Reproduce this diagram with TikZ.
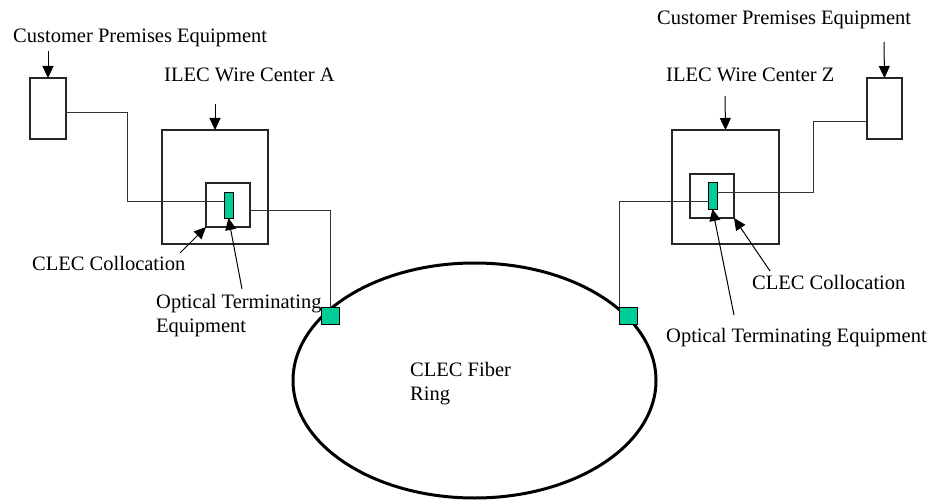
\documentclass[tikz,border=0pt]{standalone}
\usepackage{fontspec}
\setmainfont{Liberation Serif}
\usetikzlibrary{arrows.meta,shapes.geometric}
\definecolor{oteGreen}{RGB}{0,204,153}
\begin{document}
\begin{tikzpicture}[x=1pt,y=-1pt,
  lbl/.style={inner sep=0pt,anchor=base west,font=\fontsize{20.5}{24}\selectfont},
  box/.style={draw=black!85,line width=1.2pt,fill=white,rectangle,inner sep=0pt,outer sep=0pt},
  otebox/.style={draw=black,line width=1pt,fill=oteGreen,rectangle,inner sep=0pt,outer sep=0pt,minimum width=9pt,minimum height=26pt},
  ringport/.style={draw=black,line width=1pt,fill=oteGreen,rectangle,inner sep=0pt,outer sep=0pt,minimum width=18pt,minimum height=17pt},
  wire/.style={draw=black!80,line width=1pt},
  pointer/.style={draw=black,line width=1pt,-{Triangle[length=12pt,width=11pt]}}]
\useasboundingbox (0,0) rectangle (932,500);

% fibre ring
\node[draw=black,line width=3pt,ellipse,inner sep=0pt,minimum width=363pt,minimum height=235pt] (ring) at (474.5,380.5) {};
% two-line labels are anchored at the baseline of their last line
\node[lbl,align=left] (ringlbl) at (410,400) {CLEC Fiber\\Ring};

% ---- wire centre A ----
\node[box,minimum width=36pt,minimum height=61pt] (cpeA) at (48,108.5) {};
\node[box,minimum width=106pt,minimum height=114pt] (wcA) at (215,187) {};
\node[box,minimum width=44pt,minimum height=44pt] (colA) at (228,205) {};
\node[otebox] (oteA) at (228.5,205) {};
\node[ringport] (portA) at (330,315.5) {};

\node[lbl] (cpeAlbl) at (13,43) {Customer Premises Equipment};
\node[lbl] (wcAlbl) at (164,82) {ILEC Wire Center A};
\node[lbl] (colAlbl) at (32,270) {CLEC Collocation};
\node[lbl,align=left] (oteAlbl) at (156,332) {Optical Terminating\\Equipment};

\coordinate (cpeAarr) at (48,51);
\coordinate (wcAarr) at (215,104);
\coordinate (colAarr) at (180,253);
\coordinate (oteAarr) at (242,289);

\draw[wire] (cpeA.east |- 0,113) -- (127,113) |- (oteA.west |- 0,201);
\draw[wire] (colA.east |- 0,210) -| (portA.north);

\draw[pointer] (cpeAarr) -- (cpeA.north);
\draw[pointer] (wcAarr) -- (wcA.north);
\draw[pointer] (colAarr) -- (colA.south west);
\draw[pointer] (oteAarr) -- (oteA.south);

% ---- wire centre Z ----
\node[box,minimum width=35pt,minimum height=61pt] (cpeZ) at (884.5,108.5) {};
\node[box,minimum width=107pt,minimum height=114pt] (wcZ) at (725.5,187) {};
\node[box,minimum width=44pt,minimum height=44pt] (colZ) at (712,196) {};
\node[otebox] (oteZ) at (712.5,196) {};
\node[ringport] (portZ) at (628.5,315.5) {};

\node[lbl] (cpeZlbl) at (657,25) {Customer Premises Equipment};
\node[lbl] (wcZlbl) at (666,82) {ILEC Wire Center Z};
\node[lbl] (colZlbl) at (752,289) {CLEC Collocation};
\node[lbl] (oteZlbl) at (666,342) {Optical Terminating Equipment};

\coordinate (cpeZarr) at (884,42);
\coordinate (wcZarr) at (725,96);
\coordinate (colZarr) at (770,271);
\coordinate (oteZarr) at (734,315);

\draw[wire] (cpeZ.west |- 0,122) -- (813,122) |- (oteZ.east |- 0,192);
\draw[wire] (oteZ.west |- 0,201) -| (portZ.north west);

\draw[pointer] (cpeZarr) -- (cpeZ.north);
\draw[pointer] (wcZarr) -- (wcZ.north);
\draw[pointer] (colZarr) -- (colZ.south east);
\draw[pointer] (oteZarr) -- (oteZ.south);
\end{tikzpicture}
\end{document}
